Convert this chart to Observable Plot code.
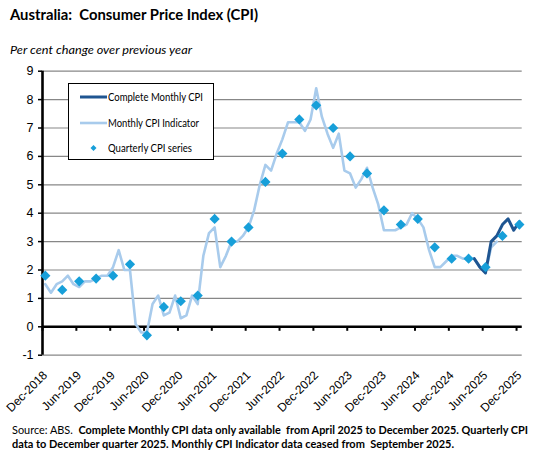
<!DOCTYPE html>
<html>
<head>
<meta charset="utf-8">
<script src="https://cdn.jsdelivr.net/npm/d3@7"></script>
<script src="https://cdn.jsdelivr.net/npm/@observablehq/plot@0.6"></script>
<style>
  html, body { margin: 0; padding: 0; background: #fff; }
  #wrap { position: relative; width: 548px; height: 455px; overflow: hidden; font-family: Lato, "Liberation Sans", sans-serif; color: #000; }
  .fit { position: absolute; white-space: nowrap; line-height: 1; transform-origin: 0 0; }
  #header { height: 60px; }
  #chart svg { display: block; }
  #legend { position: absolute; left: 68px; top: 83px; width: 144px; height: 75px; border: 1px solid #000; background: #fff; }
</style>
</head>
<body>
<div id="wrap">
  <div id="header">
    <div class="fit" data-w="248" style="left:10px; top:7px; font-size:15px; font-weight:700;">Australia:&nbsp; Consumer Price Index (CPI)</div>
    <div class="fit" data-w="182" style="left:10px; top:44px; font-size:12px; font-style:italic;">Per cent change over previous year</div>
  </div>
  <div id="chart"></div>
  <div id="legend"></div>
  <div class="fit" data-w="516" style="left:12px; top:425px; font-size:10.8px;">Source: ABS.&nbsp; <b>Complete Monthly CPI data only&nbsp;available&nbsp; from April 2025 to December 2025. Quarterly CPI</b></div>
  <div class="fit" data-w="442" style="left:12px; top:439px; font-size:10.8px;"><b>data to December quarter 2025. Monthly CPI Indicator data ceased from&nbsp; September 2025.</b></div>
</div>
<script>
// ---- Data (month offsets from Dec-2018) ----
const tickLabels = ["Dec-2018","Jun-2019","Dec-2019","Jun-2020","Dec-2020","Jun-2021","Dec-2021","Jun-2022","Dec-2022","Jun-2023","Dec-2023","Jun-2024","Dec-2024","Jun-2025","Dec-2025"];
// Monthly CPI Indicator, Dec-2018 .. Aug-2025
const indicatorValues = [
  1.5, 1.2, 1.5, 1.6, 1.8, 1.5, 1.4, 1.6, 1.6, 1.7, 1.8, 1.8,
  2.1, 2.7, 2.0, 2.0, 0.1, -0.2, -0.2, 0.8, 1.1, 0.4, 0.5, 1.1,
  0.3, 0.4, 1.1, 0.8, 2.5, 3.3, 3.5, 2.1, 2.5, 3.0, 3.0, 3.2,
  3.5, 4.1, 5.0, 5.7, 5.5, 6.1, 6.6, 7.2, 7.2, 7.2, 6.9, 7.3,
  8.4, 7.4, 6.8, 6.3, 6.8, 5.5, 5.4, 4.9, 5.2, 5.6, 4.9, 4.3,
  3.4, 3.4, 3.4, 3.5, 3.6, 4.0, 3.8, 3.5, 2.7, 2.1, 2.1, 2.3,
  2.5, 2.5, 2.4, 2.4, 2.4, 2.1, 1.9, 2.8, 3.0
];
// Complete Monthly CPI, Apr-2025 .. Dec-2025
const completeStart = 76;
const completeValues = [2.4, 2.1, 1.9, 3.0, 3.2, 3.6, 3.8, 3.4, 3.7];
// Quarterly CPI, Dec-2018 .. Dec-2025 (every 3 months)
const quarterlyValues = [
  1.8, 1.3, 1.6, 1.7, 1.8, 2.2, -0.3, 0.7, 0.9, 1.1, 3.8, 3.0, 3.5,
  5.1, 6.1, 7.3, 7.8, 7.0, 6.0, 5.4, 4.1, 3.6, 3.8, 2.8, 2.4, 2.4, 2.1, 3.2, 3.6
];
const yTicks = [-1, 0, 1, 2, 3, 4, 5, 6, 7, 8, 9];

const colDark = "#1f5591";
const colLight = "#a8cbec";
const colDiamond = "#179fd9";

const indicator = indicatorValues.map((v, i) => ({m: i, v}));
const complete = completeValues.map((v, i) => ({m: completeStart + i, v}));
const quarterly = quarterlyValues.map((v, i) => ({m: i * 3, v}));
const labelPos = tickLabels.map((_, i) => i * 6);
const tickBounds = tickLabels.map((_, i) => i * 6 - 0.5);

const chart = Plot.plot({
  width: 548,
  height: 360,
  marginTop: 10.7,
  marginBottom: 65.3,
  marginLeft: 42,
  marginRight: 26.3,
  style: {fontFamily: "'Liberation Sans', Arial, sans-serif", background: "white"},
  x: {domain: [-0.5, 84.5], axis: null},
  y: {domain: [-1, 9], axis: null},
  marks: [
    Plot.gridY(yTicks, {stroke: "#878787", strokeOpacity: 1, strokeWidth: 1.2}),
    Plot.axisY(yTicks, {label: null, tickSize: 4, tickPadding: 5, fontSize: 12.5, stroke: "#000", strokeWidth: 1.5, tickFormat: d => String(d)}),
    Plot.ruleX([-0.5], {stroke: "#000", strokeWidth: 2.6}),
    Plot.ruleY([0], {stroke: "#000", strokeWidth: 2.6}),
    Plot.ruleX(tickBounds, {y1: 0, y2: 0, insetBottom: -4.5, stroke: "#000", strokeWidth: 2}),
    Plot.axisX(labelPos, {label: null, tickSize: 0, tickPadding: 18, tickRotate: -45, fontSize: 12, tickFormat: d => tickLabels[d / 6]}),
    Plot.line(indicator, {x: "m", y: "v", stroke: colLight, strokeWidth: 2.6}),
    Plot.line(complete, {x: "m", y: "v", stroke: colDark, strokeWidth: 3}),
    Plot.dot(quarterly, {x: "m", y: "v", symbol: "diamond2", r: 4.6, fill: colDiamond, stroke: "none"})
  ]
});
document.getElementById("chart").appendChild(chart);

// ---- Legend ----
const legendItems = [
  {label: "Complete Monthly CPI", type: "line", color: colDark, width: 3, w: 95},
  {label: "Monthly CPI Indicator", type: "line", color: colLight, width: 2.6, w: 91},
  {label: "Quarterly CPI series", type: "dot", color: colDiamond, w: 84}
];
const legend = document.getElementById("legend");
legendItems.forEach((it, i) => {
  const cy = 13 + i * 25.5;
  const sw = document.createElementNS("http://www.w3.org/2000/svg", "svg");
  sw.setAttribute("width", 30); sw.setAttribute("height", 12);
  sw.style.position = "absolute"; sw.style.left = "10px"; sw.style.top = (cy - 6) + "px";
  if (it.type === "line") {
    sw.innerHTML = `<line x1="1" x2="28" y1="6" y2="6" stroke="${it.color}" stroke-width="${it.width}"/>`;
  } else {
    sw.innerHTML = `<path d="M14.5,3 L17.5,6 L14.5,9 L11.5,6 Z" fill="${it.color}"/>`;
  }
  legend.appendChild(sw);
  const t = document.createElement("div");
  t.className = "fit";
  t.dataset.w = it.w;
  t.style.left = "39px";
  t.style.top = (cy - 6) + "px";
  t.style.fontSize = "11.5px";
  t.textContent = it.label;
  legend.appendChild(t);
});

// fit text widths to the reference
document.querySelectorAll(".fit").forEach(el => {
  const w = el.getBoundingClientRect().width;
  const target = +el.dataset.w;
  if (w > 0 && target) el.style.transform = `scaleX(${target / w})`;
});
</script>
</body>
</html>
